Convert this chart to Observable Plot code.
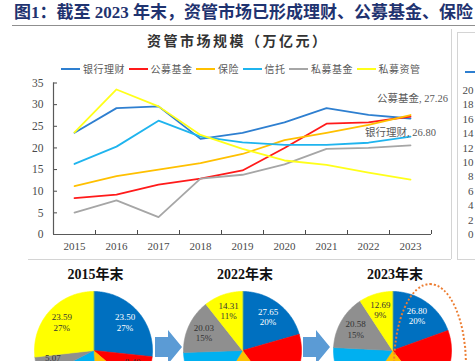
<!DOCTYPE html>
<html>
<head>
<meta charset="utf-8">
<script src="https://cdn.jsdelivr.net/npm/d3@7"></script>
<script src="https://cdn.jsdelivr.net/npm/@observablehq/plot@0.6"></script>
<style>
  html, body { margin: 0; padding: 0; background: #fff; }
  body { width: 475px; height: 361px; overflow: hidden; position: relative; font-family: "Liberation Serif", "Noto Sans CJK SC", serif; }
  .abs { position: absolute; }
  #title { left: 14px; top: 3px; font-size: 17px; line-height: 19px; font-weight: bold; color: #1f3370; white-space: nowrap; }
  #rule { left: 12px; top: 24.5px; width: 463px; height: 0; border-top: 1.6px solid #8f8f8f; }
  #ctitle { left: 147px; top: 34px; font-size: 14px; line-height: 16px; font-weight: bold; color: #333; letter-spacing: 2.5px; white-space: nowrap; }
  #legend { left: 61px; top: 61px; display: flex; gap: 3.5px; align-items: center; font-family: "Noto Sans CJK SC", sans-serif; font-size: 10px; letter-spacing: 0.5px; color: #595959; white-space: nowrap; }
  .item { display: flex; align-items: center; }
  .sw { width: 19px; height: 2px; margin-right: 3px; }
  .ptitle { top: 266px; font-size: 14px; line-height: 18px; font-weight: bold; color: #111; white-space: nowrap; transform: translateX(-50%); }
  .arrow { width: 27px; height: 34px; background: #5b9bd5; clip-path: polygon(0px 7px, 13px 7px, 13px 0px, 27px 17px, 13px 34px, 13px 27px, 0px 27px); }
  svg { overflow: visible; max-width: none !important; }
</style>
</head>
<body>
<div id="title" class="abs">图1：截至 2023 年末，资管市场已形成理财、公募基金、保险</div>
<div id="rule" class="abs"></div>
<div class="abs" style="left:28px;top:258.5px;width:423px;border-top:1px solid #d4d4d4;"></div>
<div class="abs" style="left:450.5px;top:29px;height:230px;border-left:1px solid #d4d4d4;"></div>
<div class="abs" style="left:457px;top:31.5px;width:30px;height:226px;border:1px solid #d4d4d4;border-right:none;"></div>
<div class="abs" style="left:465px;top:70.5px;width:14px;height:2px;background:#2e7fd0;"></div>
<div id="ctitle" class="abs">资管市场规模（万亿元）</div>
<div id="legend" class="abs"></div>
<div id="main" class="abs" style="left:0;top:0;"></div>
<div id="side" class="abs" style="left:447px;top:0;width:40px;"></div>
<div id="pies"></div>
<div class="abs arrow" style="left:155px;top:330px;"></div>
<div class="abs arrow" style="left:303px;top:330px;"></div>
<div class="abs" style="left:393px;top:283px;width:70px;height:160px;border:2.5px dotted #ed7d31;border-radius:50%;"></div>
<script>
// ---------- data ----------
const years = [2015, 2016, 2017, 2018, 2019, 2020, 2021, 2022, 2023];
const names = ["银行理财", "公募基金", "保险", "信托", "私募基金", "私募资管"];
const bank        = [23.50, 29.2, 29.6, 22.1, 23.5, 25.9, 29.2, 27.65, 26.80];
const publicFund  = [8.40, 9.2, 11.5, 12.9, 14.8, 20.0, 25.6, 25.9, 27.26];
const insurance   = [11.2, 13.5, 15.0, 16.5, 18.6, 21.8, 23.5, 25.3, 27.6];
const trust       = [16.3, 20.3, 26.3, 22.6, 21.3, 20.7, 20.7, 21.2, 22.6];
const privateFund = [5.07, 7.9, 4.0, 12.9, 13.8, 16.2, 19.8, 20.03, 20.58];
const privateAM   = [23.59, 33.5, 29.6, 23.0, 19.8, 17.1, 16.1, 14.31, 12.69];
const yTicks = [0, 5, 10, 15, 20, 25, 30, 35];
const sideTicks = [0, 2, 4, 6, 8, 10, 12, 14, 16, 18, 20];
const pieYears = [2015, 2022, 2023];
const pieTitles = ["2015年末", "2022年末", "2023年末"];
const pct2015 = [27, 10, 13, 19, 6, 27];
const pct2022 = [20, 19, 19, 16, 15, 11];
const pct2023 = [20, 20, 20, 16, 15, 9];
// which slice labels the reference shows (the others fall below the visible area)
const shown2015 = ["银行理财", "公募基金", "私募基金", "私募资管"];
const shown2022 = ["银行理财", "私募基金", "私募资管"];
const shown2023 = ["银行理财", "私募基金", "私募资管"];
const lineColors = ["#2e7fd0", "#ff1a1a", "#ffc000", "#1fb4ee", "#a6a6a6", "#ffff1a"];
const pieColors = ["#0070c0", "#ff0000", "#ffc000", "#00b0f0", "#8f8f8f", "#ffff00"];

const series = [bank, publicFund, insurance, trust, privateFund, privateAM];
const rows = [];
series.forEach((vals, i) => vals.forEach((v, j) => rows.push({name: names[i], year: years[j], value: v})));

// ---------- legend ----------
const leg = document.getElementById("legend");
names.forEach((n, i) => {
  const it = document.createElement("div"); it.className = "item";
  const sw = document.createElement("span"); sw.className = "sw"; sw.style.background = lineColors[i];
  const tx = document.createElement("span"); tx.textContent = n;
  it.appendChild(sw); it.appendChild(tx); leg.appendChild(it);
});

// ---------- main line chart ----------
const bounds = years.map(y => y + 0.5);
const endFund = rows.filter(d => d.name === "公募基金" && d.year === 2023);
const endBank = rows.filter(d => d.name === "银行理财" && d.year === 2023);
const main = Plot.plot({
  width: 475, height: 260,
  marginLeft: 53, marginRight: 44, marginTop: 82.5, marginBottom: 26,
  x: {domain: [2014.5, 2023.5], axis: null},
  y: {domain: [0, 35], axis: null},
  color: {domain: names, range: lineColors},
  style: {background: "transparent", fontFamily: "Liberation Serif, serif", fontSize: "11px", color: "#4a4a4a", overflow: "visible"},
  marks: [
    Plot.axisY({ticks: yTicks, tickSize: 0, tickPadding: 10, tickFormat: d => String(d), fontSize: 11.5, label: null}),
    Plot.axisY({ticks: yTicks, tickSize: 4, dx: 4, tickFormat: () => "", label: null}),
    Plot.axisX({ticks: bounds, tickSize: 4, dy: -4, tickFormat: () => "", label: null}),
    Plot.axisX({ticks: years, tickSize: 0, tickPadding: 8, tickFormat: d => String(d), fontSize: 11, label: null}),
    Plot.ruleX([2014.5], {stroke: "#595959", strokeWidth: 1.2}),
    Plot.ruleY([0], {stroke: "#595959", strokeWidth: 1.2}),
    Plot.line(rows, {x: "year", y: "value", z: "name", stroke: "name", strokeWidth: 1.8, strokeLinejoin: "round"}),
    Plot.text(endFund, {x: "year", y: "value", text: d => `${d.name}, ${d.value.toFixed(2)}`, dx: 2, dy: -18, fill: "#595959", fontSize: 10.5, fontFamily: "Liberation Serif, Noto Sans CJK SC"}),
    Plot.text(endBank, {x: "year", y: "value", text: d => `${d.name}, ${d.value.toFixed(2)}`, dx: -10, dy: 14, fill: "#595959", fontSize: 10.5, fontFamily: "Liberation Serif, Noto Sans CJK SC"})
  ]
});
document.getElementById("main").appendChild(main);

// ---------- cut-off right panel axis ----------
const side = Plot.plot({
  width: 40, height: 260, marginLeft: 31, marginRight: 0, marginTop: 90, marginBottom: 26,
  y: {domain: [0, 20], axis: null},
  style: {background: "transparent", fontFamily: "Liberation Serif, serif", fontSize: "11px", color: "#4a4a4a", overflow: "visible"},
  marks: [Plot.axisY({ticks: sideTicks, tickSize: 0, tickPadding: 5, tickFormat: d => String(d), label: null})]
});
document.getElementById("side").appendChild(side);

// ---------- pies ----------
const pieCenters = [92.5, 242, 392];
const pcts = [pct2015, pct2022, pct2023];
const shown = [shown2015, shown2022, shown2023];
const R = 59, cy = 350;
pieYears.forEach((yr, p) => {
  const idx = years.indexOf(yr);
  const values = series.map(s => s[idx]);
  const arcs = d3.pie().sort(null)(values);
  const pts = [];
  arcs.forEach((a, i) => {
    const n = Math.max(2, Math.ceil((a.endAngle - a.startAngle) / 0.02));
    pts.push({name: names[i], x: 0, y: 0});
    for (let j = 0; j <= n; j++) {
      const t = a.startAngle + (a.endAngle - a.startAngle) * j / n;
      pts.push({name: names[i], x: Math.sin(t), y: Math.cos(t)});
    }
  });
  const labels = arcs.map((a, i) => {
    const m = (a.startAngle + a.endAngle) / 2;
    return {i, name: names[i], x: 0.72 * Math.sin(m), y: 0.72 * Math.cos(m), text: values[i].toFixed(2) + "\n" + pcts[p][i] + "%"};
  }).filter(d => shown[p].includes(d.name));
  const pl = Plot.plot({
    width: 2 * R, height: 2 * R, margin: 0,
    x: {domain: [-1, 1], axis: null}, y: {domain: [-1, 1], axis: null},
    color: {domain: names, range: pieColors},
    style: {background: "transparent", overflow: "visible"},
    marks: [
      Plot.line(pts, {x: "x", y: "y", z: "name", fill: "name", stroke: "name", strokeWidth: 0.6, curve: "linear-closed"}),
      Plot.text(labels.filter(d => d.i === 0), {x: "x", y: "y", text: "text", fill: "white", fontSize: 9, lineHeight: 1.15, fontFamily: "Liberation Serif, serif"}),
      Plot.text(labels.filter(d => d.i !== 0), {x: "x", y: "y", text: "text", fill: "#333", fontSize: 9, lineHeight: 1.15, fontFamily: "Liberation Serif, serif"})
    ]
  });
  const wrap = document.createElement("div");
  wrap.className = "abs";
  wrap.style.left = (pieCenters[p] - R) + "px";
  wrap.style.top = (cy - R) + "px";
  wrap.style.width = (2 * R) + "px";
  wrap.appendChild(pl);
  document.getElementById("pies").appendChild(wrap);
  const t = document.createElement("div");
  t.className = "abs ptitle";
  t.style.left = (pieCenters[p] + 3) + "px";
  t.textContent = pieTitles[p];
  document.body.appendChild(t);
});
</script>
</body>
</html>
